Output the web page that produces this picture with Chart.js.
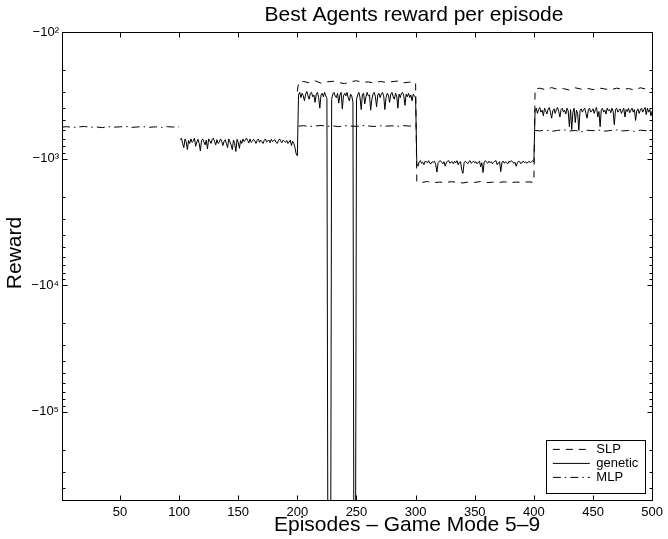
<!DOCTYPE html>
<html><head><meta charset="utf-8">
<script src="https://cdn.jsdelivr.net/npm/chart.js@4.4.1/dist/chart.umd.min.js"></script>
<style>html,body{margin:0;padding:0;background:#fff;}canvas{display:block;}</style>
</head><body>
<canvas id="c" width="668" height="539"></canvas>
<script>
// ---------- data ----------
const titleText = 'Best Agents reward per episode';
const xTitleText = 'Episodes – Game Mode 5–9';
const yTitleText = 'Reward';
const seriesNames = ['SLP', 'genetic', 'MLP'];
const xTickValues = [50, 100, 150, 200, 250, 300, 350, 400, 450, 500];
const yTickValues = [100, 1000, 10000, 100000];
const yTickLabels = ['−10²', '−10³', '−10⁴', '−10⁵'];

const slpEpisodes = [200, 201, 205, 210, 215, 220, 225, 230, 235, 240, 245, 250, 255, 260, 265, 270, 275, 280, 285, 290, 295, 300,
  301, 305, 310, 315, 320, 325, 330, 335, 340, 345, 350, 355, 360, 365, 370, 375, 380, 385, 390, 395, 400,
  401, 405, 410, 415, 420, 425, 430, 435, 440, 445, 450, 455, 460, 465, 470, 475, 480, 485, 490, 495, 500];
const slpRewards = [-295, -250, -246, -252, -243, -254, -248, -245, -251, -256, -247, -243, -250, -248, -253, -246, -250, -247, -244, -252, -249, -251,
  -1530, -1545, -1520, -1555, -1535, -1548, -1525, -1540, -1560, -1530, -1545, -1520, -1550, -1538, -1545, -1528, -1552, -1536, -1544, -1530, -1540,
  -282, -278, -286, -275, -284, -280, -288, -276, -283, -279, -285, -277, -282, -286, -278, -284, -280, -287, -276, -283, -280];

const mlpEpisodes = [1, 5, 10, 15, 20, 25, 30, 35, 40, 45, 50, 55, 60, 65, 70, 75, 80, 85, 90, 95, 100,
  150,
  201, 205, 210, 215, 220, 225, 230, 235, 240, 245, 250, 255, 260, 265, 270, 275, 280, 285, 290, 295, 300,
  350,
  401, 405, 410, 415, 420, 425, 430, 435, 440, 445, 450, 455, 460, 465, 470, 475, 480, 485, 490, 495, 500];
const mlpRewards = [-565, -560, -568, -562, -558, -566, -563, -570, -560, -565, -562, -558, -567, -563, -560, -566, -562, -568, -560, -564, -562,
  null,
  -555, -550, -558, -553, -548, -556, -552, -560, -550, -554, -557, -549, -553, -558, -551, -555, -552, -556, -550, -554, -553,
  null,
  -600, -605, -595, -610, -600, -592, -606, -600, -615, -598, -603, -596, -608, -600, -594, -605, -600, -610, -597, -603, -600];

const geneticStart1 = 101;
const geneticEp101to200 = [
  -710, -690, -760, -820, -700, -735, -850, -720, -760, -700,
  -745, -730, -690, -800, -740, -705, -760, -870, -720, -700,
  -740, -780, -715, -840, -700, -725, -760, -705, -690, -735,
  -780, -710, -760, -745, -700, -725, -790, -735, -710, -760,
  -820, -700, -740, -780, -850, -715, -760, -880, -705, -745,
  -830, -720, -760, -700, -735, -715, -690, -720, -755, -700,
  -745, -730, -705, -725, -760, -720, -700, -745, -715, -735,
  -760, -720, -700, -740, -725, -715, -750, -705, -735, -720,
  -710, -745, -760, -720, -700, -735, -750, -715, -730, -745,
  -720, -760, -740, -715, -790, -730, -760, -820, -920, -950];
const geneticStart2 = 201;
const geneticEp201to300 = [
  -315, -300, -330, -305, -320, -350, -310, -295, -320, -340,
  -305, -300, -325, -315, -360, -310, -300, -330, -400, -315,
  -305, -325, -300, -320, -335, -1e7, -1e7, -1e7, -340, -310,
  -300, -320, -330, -305, -365, -315, -300, -405, -320, -305,
  -320, -300, -330, -350, -310, -320, -360, -1e7, -1e7, -340,
  -315, -300, -330, -410, -310, -305, -370, -325, -300, -320,
  -315, -415, -340, -310, -300, -325, -390, -315, -305, -330,
  -310, -300, -320, -410, -330, -305, -315, -360, -310, -300,
  -325, -340, -305, -320, -400, -310, -330, -305, -300, -320,
  -380, -310, -325, -305, -330, -315, -350, -310, -320, -330];
const geneticStart3 = 301;
const geneticEp301to400 = [
  -1100, -1150, -1060, -1040, -1090, -1070, -1120, -1050, -1060, -1080,
  -1040, -1090, -1100, -1060, -1070, -1050, -1120, -1280, -1080, -1050,
  -1040, -1070, -1100, -1060, -1150, -1080, -1050, -1040, -1090, -1070,
  -1060, -1100, -1050, -1080, -1040, -1120, -1070, -1060, -1230, -1310,
  -1080, -1050, -1070, -1100, -1060, -1040, -1090, -1070, -1050, -1080,
  -1060, -1100, -1070, -1050, -1160, -1080, -1290, -1060, -1040, -1070,
  -1090, -1050, -1080, -1060, -1100, -1070, -1050, -1040, -1120, -1080,
  -1060, -1270, -1070, -1050, -1090, -1060, -1080, -1100, -1050, -1070,
  -1040, -1060, -1090, -1070, -1150, -1080, -1050, -1060, -1100, -1070,
  -1050, -1080, -1060, -1090, -1070, -1050, -1080, -1060, -1040, -1070];
const geneticStart4 = 401;
const geneticEp401to500 = [
  -420, -400, -440, -410, -395, -430, -415, -460, -400, -420,
  -445, -410, -395, -430, -480, -420, -405, -440, -410, -395,
  -425, -470, -410, -400, -430, -415, -445, -400, -420, -560,
  -410, -590, -430, -400, -520, -415, -440, -600, -420, -405,
  -430, -410, -400, -440, -480, -415, -400, -430, -420, -405,
  -440, -410, -395, -470, -425, -560, -410, -400, -430, -415,
  -445, -400, -420, -410, -435, -400, -425, -540, -410, -400,
  -430, -415, -405, -440, -420, -400, -470, -410, -425, -400,
  -435, -415, -400, -430, -410, -500, -420, -405, -440, -415,
  -400, -430, -410, -395, -450, -400, -430, -410, -460, -420];

// ---------- build points (plotted on a reversed log axis of |reward|) ----------
const pairPoints = (eps, vals) => eps.map((e, i) => ({x: e, y: vals[i] === null ? null : -vals[i]}));
const runPoints = (start, vals) => vals.map((v, i) => ({x: start + i, y: -v}));
const slpPoints = pairPoints(slpEpisodes, slpRewards);
const mlpPoints = pairPoints(mlpEpisodes, mlpRewards);
const geneticPoints = [].concat(
  runPoints(geneticStart1, geneticEp101to200),
  runPoints(geneticStart2, geneticEp201to300),
  runPoints(geneticStart3, geneticEp301to400),
  runPoints(geneticStart4, geneticEp401to500));

Chart.defaults.font.family = "'Liberation Sans', Arial, Helvetica, sans-serif";
Chart.defaults.color = '#000';

const isMajorY = v => yTickValues.some(t => Math.abs(v - t) / t < 1e-9);

const frame = {
  id: 'frame',
  afterLayout(chart) {
    const ca = chart.chartArea, lg = chart.legend;
    const box = {right: ca.right - 7, bottom: ca.bottom - 7, w: 99, h: 53};
    box.left = box.right - box.w; box.top = box.bottom - box.h;
    chart.$legendBox = box;
    if (lg) {
      lg.left = box.left + 5.7; lg.top = box.top + 1.9;
      lg.right = box.right; lg.bottom = box.bottom + 40;
    }
  },
  beforeDraw(chart) {
    const ctx = chart.ctx;
    const shift = (obj, fn, dx, dy) => {
      if (!obj || obj['$sh_' + fn]) return;
      const orig = obj[fn];
      obj[fn] = function (...a) { ctx.save(); ctx.translate(dx, dy); orig.apply(this, a); ctx.restore(); };
      obj['$sh_' + fn] = true;
    };
    shift(chart.titleBlock, 'draw', 86, 0);
    shift(chart.scales.x, 'drawTitle', 50, 0);
    shift(chart.scales.y, 'drawTitle', 0, -13);
  },
  afterDraw(chart) {
    const ctx = chart.ctx, ca = chart.chartArea;
    const L = Math.round(ca.left) + 0.5, R = Math.round(ca.right) + 0.5;
    const T = Math.round(ca.top) + 0.5, B = Math.round(ca.bottom) + 0.5;
    ctx.save();
    ctx.strokeStyle = '#000'; ctx.lineWidth = 1; ctx.setLineDash([]);
    ctx.beginPath();
    const xs = chart.scales.x;
    xs.ticks.forEach(t => {
      const p = Math.round(xs.getPixelForValue(t.value)) + 0.5;
      ctx.moveTo(p, B); ctx.lineTo(p, B - 5);
      ctx.moveTo(p, T); ctx.lineTo(p, T + 5);
    });
    const ys = chart.scales.y;
    ys.ticks.forEach(t => {
      const p = Math.round(ys.getPixelForValue(t.value)) + 0.5;
      const len = isMajorY(t.value) ? 5 : 3;
      ctx.moveTo(L, p); ctx.lineTo(L + len, p);
      ctx.moveTo(R, p); ctx.lineTo(R - len, p);
    });
    ctx.stroke();
    ctx.strokeRect(L, T, R - L, B - T);
    const b = chart.$legendBox;
    if (b) ctx.strokeRect(Math.round(b.left) + 0.5, Math.round(b.top) + 0.5, b.w, b.h);
    ctx.restore();
  }
};

const lineBase = {borderColor: '#000', backgroundColor: '#000', borderWidth: 1, pointRadius: 0, fill: false, tension: 0, spanGaps: false};

const defaultLabels = Chart.defaults.plugins.legend.labels.generateLabels;

new Chart(document.getElementById('c'), {
  type: 'line',
  data: {
    datasets: [
      Object.assign({label: seriesNames[0], data: slpPoints, borderDash: [7, 6]}, lineBase),
      Object.assign({label: seriesNames[1], data: geneticPoints, borderDash: []}, lineBase),
      Object.assign({label: seriesNames[2], data: mlpPoints, borderDash: [8, 4, 1.5, 4]}, lineBase)
    ]
  },
  options: {
    responsive: false, animation: false, devicePixelRatio: 1, events: [],
    layout: {padding: {left: 0, right: 12, top: 0, bottom: 0}},
    plugins: {
      title: {display: true, text: titleText, color: '#000', font: {size: 21, weight: 'normal'}, padding: {top: 3, bottom: 3.8}},
      legend: {
        display: true, position: 'chartArea', align: 'start',
        labels: {usePointStyle: true, pointStyle: 'line', pointStyleWidth: 37, boxWidth: 37, boxHeight: 13,
          padding: 1, color: '#000', font: {size: 13, lineHeight: 1.2},
          generateLabels: chart => defaultLabels(chart).map(item => {
            const ds = chart.data.datasets[item.datasetIndex];
            item.lineDash = ds.borderDash || [];
            item.lineWidth = ds.borderWidth;
            item.strokeStyle = ds.borderColor;
            item.pointStyle = 'line';
            return item;
          })}
      },
      tooltip: {enabled: false}
    },
    scales: {
      x: {
        type: 'linear', position: 'bottom', min: 1, max: 500,
        grid: {display: false, drawTicks: false}, border: {display: false},
        ticks: {font: {size: 13}, color: '#000', padding: 5, autoSkip: false, maxRotation: 0},
        afterBuildTicks: s => { s.ticks = xTickValues.map(v => ({value: v})); },
        afterFit: s => { s.height = 39; },
        title: {display: true, text: xTitleText, color: '#000', font: {size: 21, lineHeight: 1.2}, padding: {top: 0, bottom: 1}}
      },
      y: {
        type: 'logarithmic', position: 'left', reverse: true, min: 100, max: 500000,
        grid: {display: false, drawTicks: false}, border: {display: false},
        ticks: {font: {size: 13}, color: '#000', padding: 3, autoSkip: false,
          callback: v => { const i = yTickValues.findIndex(t => Math.abs(v - t) / t < 1e-9); return i >= 0 ? yTickLabels[i] : ''; }},
        afterBuildTicks: s => { s.ticks = s.ticks.filter(t => { const m = t.value / Math.pow(10, Math.floor(Math.log10(t.value) + 1e-9)); return Math.abs(m - Math.round(m)) < 1e-6; }); },
        afterFit: s => { s.width = 62; },
        title: {display: true, text: yTitleText, color: '#000', font: {size: 21, lineHeight: 1.2}, padding: {top: 2.4, bottom: 0}}
      }
    }
  },
  plugins: [frame]
});
</script>
</body></html>
